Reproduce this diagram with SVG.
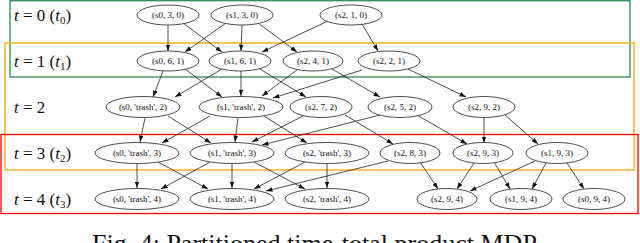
<svg xmlns="http://www.w3.org/2000/svg" width="640" height="243" viewBox="0 0 640 243">
<style>
.n ellipse{fill:#fff;stroke:#222;stroke-width:0.8}
.n text{font-family:"Liberation Serif","Times New Roman","DejaVu Serif",serif;font-size:9px;fill:#111;text-anchor:middle}
.lab{font-family:"Liberation Serif","Times New Roman","DejaVu Serif",serif;font-size:17px;fill:#111}
.lab .i{font-style:italic}
.cap{font-family:"Liberation Serif","Times New Roman","DejaVu Serif",serif;font-size:26px;fill:#111}
#edges line{stroke:#222;stroke-width:0.8;marker-end:url(#ah)}
.part{fill:none;stroke-width:1.3}
</style>
<defs>
<marker id="ah" markerUnits="userSpaceOnUse" markerWidth="7" markerHeight="5" refX="6.5" refY="2.3" orient="auto">
<path d="M0,0 L6.5,2.3 L0,4.6 z" fill="#111"/>
</marker>
</defs>
<rect fill="#fff" width="640" height="243"/>
<g id="partitions">
<rect class="part" x="10" y="0.7" width="620" height="76.3" stroke="#2e8b57"/>
<rect class="part" x="5" y="43" width="629" height="127" stroke="#ffa500"/>
<rect class="part" x="1" y="134.5" width="637" height="79" stroke="#ff0000"/>
</g>
<g id="labels">
<text class="lab" x="14" y="21"><tspan class="i">t</tspan> = 0 (<tspan class="i">t</tspan><tspan font-size="11" dy="3">0</tspan><tspan dy="-3">)</tspan></text>
<text class="lab" x="14" y="67"><tspan class="i">t</tspan> = 1 (<tspan class="i">t</tspan><tspan font-size="11" dy="3">1</tspan><tspan dy="-3">)</tspan></text>
<text class="lab" x="14" y="113"><tspan class="i">t</tspan> = 2</text>
<text class="lab" x="14" y="159"><tspan class="i">t</tspan> = 3 (<tspan class="i">t</tspan><tspan font-size="11" dy="3">2</tspan><tspan dy="-3">)</tspan></text>
<text class="lab" x="14" y="205"><tspan class="i">t</tspan> = 4 (<tspan class="i">t</tspan><tspan font-size="11" dy="3">3</tspan><tspan dy="-3">)</tspan></text>
</g>
<g id="edges">
<line x1="168" y1="25" x2="168" y2="51"/>
<line x1="183" y1="23" x2="222" y2="52"/>
<line x1="226" y1="23" x2="185" y2="52"/>
<line x1="242" y1="25" x2="241" y2="51"/>
<line x1="258" y1="23" x2="297" y2="52"/>
<line x1="328" y1="21" x2="262" y2="52"/>
<line x1="362" y1="24" x2="378" y2="51"/>
<line x1="163" y1="71" x2="153" y2="97"/>
<line x1="185" y1="69" x2="222" y2="97"/>
<line x1="222" y1="69" x2="175" y2="97"/>
<line x1="241" y1="71" x2="241" y2="96"/>
<line x1="260" y1="69" x2="306" y2="97"/>
<line x1="297" y1="70" x2="262" y2="96"/>
<line x1="362" y1="70" x2="273" y2="98"/>
<line x1="332" y1="69" x2="380" y2="97"/>
<line x1="408" y1="69" x2="466" y2="97"/>
<line x1="145" y1="118" x2="140" y2="142"/>
<line x1="168" y1="116" x2="211" y2="143"/>
<line x1="210" y1="116" x2="162" y2="143"/>
<line x1="238" y1="118" x2="235" y2="142"/>
<line x1="264" y1="116" x2="307" y2="143"/>
<line x1="305" y1="115" x2="252" y2="142"/>
<line x1="380" y1="115" x2="262" y2="145"/>
<line x1="345" y1="115" x2="393" y2="144"/>
<line x1="417" y1="115" x2="467" y2="144"/>
<line x1="484" y1="117" x2="484" y2="143"/>
<line x1="505" y1="115" x2="538" y2="144"/>
<line x1="137" y1="164" x2="137" y2="188"/>
<line x1="158" y1="162" x2="208" y2="189"/>
<line x1="210" y1="162" x2="161" y2="189"/>
<line x1="232" y1="164" x2="232" y2="188"/>
<line x1="254" y1="162" x2="305" y2="189"/>
<line x1="305" y1="162" x2="254" y2="189"/>
<line x1="327" y1="164" x2="327" y2="188"/>
<line x1="388" y1="161" x2="266" y2="191"/>
<line x1="420" y1="162" x2="438" y2="189"/>
<line x1="474" y1="163" x2="457" y2="189"/>
<line x1="494" y1="162" x2="510" y2="189"/>
<line x1="535" y1="161" x2="470" y2="191"/>
<line x1="546" y1="163" x2="532" y2="189"/>
<line x1="567" y1="163" x2="584" y2="189"/>
</g>
<g id="s0_3_0" class="n"><ellipse cx="168" cy="15" rx="31" ry="10"/><text x="168" y="18">(s0, 3, 0)</text></g>
<g id="s1_3_0" class="n"><ellipse cx="242" cy="15" rx="31" ry="10"/><text x="242" y="18">(s1, 3, 0)</text></g>
<g id="s2_1_0" class="n"><ellipse cx="351" cy="15" rx="31" ry="10"/><text x="351" y="18">(s2, 1, 0)</text></g>
<g id="s0_6_1" class="n"><ellipse cx="168" cy="61" rx="31" ry="10"/><text x="168" y="64">(s0, 6, 1)</text></g>
<g id="s1_6_1" class="n"><ellipse cx="240" cy="61" rx="31" ry="10"/><text x="240" y="64">(s1, 6, 1)</text></g>
<g id="s2_4_1" class="n"><ellipse cx="313" cy="61" rx="30" ry="10"/><text x="313" y="64">(s2, 4, 1)</text></g>
<g id="s2_2_1" class="n"><ellipse cx="389" cy="61" rx="31" ry="10"/><text x="389" y="64">(s2, 2, 1)</text></g>
<g id="s0_t_2" class="n"><ellipse cx="143" cy="107" rx="37" ry="10.5"/><text x="143" y="110">(s0, 'trash', 2)</text></g>
<g id="s1_t_2" class="n"><ellipse cx="241" cy="107" rx="42" ry="10.5"/><text x="241" y="110">(s1, 'trash', 2)</text></g>
<g id="s2_7_2" class="n"><ellipse cx="321" cy="107" rx="31" ry="10.5"/><text x="321" y="110">(s2, 7, 2)</text></g>
<g id="s2_5_2" class="n"><ellipse cx="400" cy="107" rx="32" ry="10.5"/><text x="400" y="110">(s2, 5, 2)</text></g>
<g id="s2_9_2" class="n"><ellipse cx="484" cy="107" rx="31" ry="10.5"/><text x="484" y="110">(s2, 9, 2)</text></g>
<g id="s0_t_3" class="n"><ellipse cx="137" cy="153" rx="42" ry="10.5"/><text x="137" y="156">(s0, 'trash', 3)</text></g>
<g id="s1_t_3" class="n"><ellipse cx="232" cy="153" rx="42" ry="10.5"/><text x="232" y="156">(s1, 'trash', 3)</text></g>
<g id="s2_t_3" class="n"><ellipse cx="327" cy="153" rx="42" ry="10.5"/><text x="327" y="156">(s2, 'trash', 3)</text></g>
<g id="s2_8_3" class="n"><ellipse cx="410" cy="153" rx="30" ry="10.5"/><text x="410" y="156">(s2, 8, 3)</text></g>
<g id="s2_9_3" class="n"><ellipse cx="483" cy="153" rx="30" ry="10.5"/><text x="483" y="156">(s2, 9, 3)</text></g>
<g id="s1_9_3" class="n"><ellipse cx="557" cy="153" rx="31" ry="10.5"/><text x="557" y="156">(s1, 9, 3)</text></g>
<g id="s0_t_4" class="n"><ellipse cx="137" cy="199" rx="42" ry="10.5"/><text x="137" y="202">(s0, 'trash', 4)</text></g>
<g id="s1_t_4" class="n"><ellipse cx="232" cy="199" rx="42" ry="10.5"/><text x="232" y="202">(s1, 'trash', 4)</text></g>
<g id="s2_t_4" class="n"><ellipse cx="327" cy="199" rx="42" ry="10.5"/><text x="327" y="202">(s2, 'trash', 4)</text></g>
<g id="s2_9_4" class="n"><ellipse cx="447" cy="199" rx="30" ry="10.5"/><text x="447" y="202">(s2, 9, 4)</text></g>
<g id="s1_9_4" class="n"><ellipse cx="521" cy="199" rx="31" ry="10.5"/><text x="521" y="202">(s1, 9, 4)</text></g>
<g id="s0_9_4" class="n"><ellipse cx="594" cy="199" rx="31" ry="10.5"/><text x="594" y="202">(s0, 9, 4)</text></g>
<text class="cap" x="92" y="252">Fig. 4: Partitioned time-total product MDP.</text>
</svg>
